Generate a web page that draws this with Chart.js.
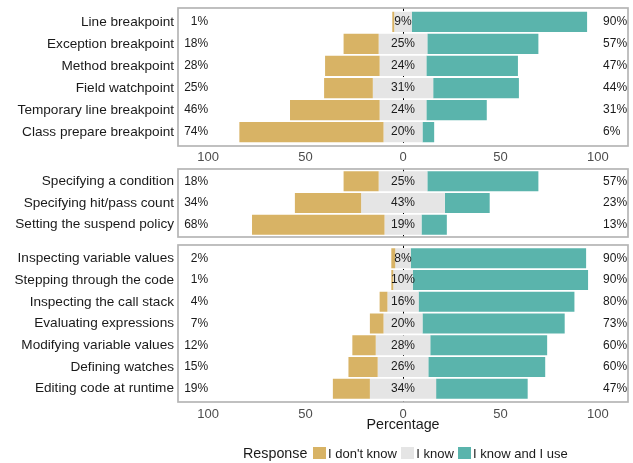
<!DOCTYPE html>
<html>
<head>
<meta charset="utf-8">
<script src="https://cdn.jsdelivr.net/npm/chart.js@4.4.1/dist/chart.umd.min.js"></script>
<style>
  html, body { margin: 0; padding: 0; background: #ffffff; }
  #wrap { position: relative; width: 633px; height: 463px; overflow: hidden; font-family: "Liberation Sans", Arial, Helvetica, sans-serif; }
  #wrap canvas { position: absolute; left: 0; }
  #legend { position: absolute; left: 243px; top: 444px; height: 18px; display: flex; align-items: center; white-space: nowrap; color: #1a1a1a; }
  #legend .title { font-size: 14.3px; margin-right: 5.5px; }
  #legend .key { width: 13.3px; height: 12.5px; margin-right: 1.8px; }
  #legend .lab { font-size: 13px; margin-right: 4.2px; }
</style>
</head>
<body>
<div id="wrap">
  <canvas id="c1" width="633" height="168" style="top:0px"></canvas>
  <canvas id="c2" width="633" height="85" style="top:160px"></canvas>
  <canvas id="c3" width="633" height="200" style="top:240px"></canvas>
  <div id="legend"></div>
</div>
<script>
// ---------------- data ----------------
const breakpointTypes = ["Line breakpoint", "Exception breakpoint", "Method breakpoint", "Field watchpoint", "Temporary line breakpoint", "Class prepare breakpoint"];
const breakpointDontKnow = [1, 18, 28, 25, 46, 74];
const breakpointKnow = [9, 25, 24, 31, 24, 20];
const breakpointKnowUse = [90, 57, 47, 44, 31, 6];

const breakpointSettings = ["Specifying a condition", "Specifying hit/pass count", "Setting the suspend policy"];
const settingDontKnow = [18, 34, 68];
const settingKnow = [25, 43, 19];
const settingKnowUse = [57, 23, 13];

const debugFeatures = ["Inspecting variable values", "Stepping through the code", "Inspecting the call stack", "Evaluating expressions", "Modifying variable values", "Defining watches", "Editing code at runtime"];
const featureDontKnow = [2, 1, 4, 7, 12, 15, 19];
const featureKnow = [8, 10, 16, 20, 28, 26, 34];
const featureKnowUse = [90, 90, 80, 73, 60, 60, 47];

const responseLevels = ["I don't know", "I know", "I know and I use"];
const xTickValues = [-100, -50, 0, 50, 100];
const axisTitle = "Percentage";
const legendTitle = "Response";

// ---------------- style ----------------
const COLOR_LOW = '#D8B365';
const COLOR_NEU = '#E5E5E5';
const COLOR_HIGH = '#5AB4AC';
const FONT = '"Liberation Sans", Arial, Helvetica, sans-serif';
const X_MIN = -115.5, X_MAX = 115.5;

function makeChart(id, labels, low, neu, high, cfg) {
  const panelPlugin = {
    id: 'panel' + id,
    beforeDatasetsDraw(chart) {
      const ctx = chart.ctx, a = chart.chartArea;
      const x = Math.round(chart.scales.x.getPixelForValue(0)) + 0.5;
      ctx.save();
      ctx.strokeStyle = '#000000';
      ctx.lineWidth = 1;
      ctx.setLineDash([3, 3]);
      ctx.beginPath();
      ctx.moveTo(x, a.top - cfg.pad);
      ctx.lineTo(x, a.bottom + cfg.pad);
      ctx.stroke();
      ctx.restore();
    },
    afterDatasetsDraw(chart) {
      const ctx = chart.ctx, xs = chart.scales.x, ys = chart.scales.y;
      ctx.save();
      ctx.font = '12px ' + FONT;
      ctx.fillStyle = '#1a1a1a';
      ctx.textBaseline = 'middle';
      labels.forEach((lab, i) => {
        const y = ys.getPixelForValue(i);
        ctx.textAlign = 'right';
        ctx.fillText(low[i] + '%', xs.getPixelForValue(-100), y);
        ctx.textAlign = 'center';
        ctx.fillText(neu[i] + '%', xs.getPixelForValue(0), y);
        ctx.textAlign = 'left';
        ctx.fillText(high[i] + '%', xs.getPixelForValue(102.7), y);
      });
      ctx.restore();
    },
    afterDraw(chart) {
      const ctx = chart.ctx, a = chart.chartArea;
      ctx.save();
      ctx.strokeStyle = '#b5b5b5';
      ctx.lineWidth = 1.7;
      ctx.strokeRect(a.left, a.top - cfg.pad, a.right - a.left, (a.bottom - a.top) + 2 * cfg.pad);
      ctx.restore();
    }
  };

  const common = { borderWidth: 0, barPercentage: 0.92, categoryPercentage: 1.0, grouped: false };
  return new Chart(document.getElementById(id), {
    type: 'bar',
    data: {
      labels: labels,
      datasets: [
        Object.assign({ label: responseLevels[0], data: low.map((v, i) => [-neu[i] / 2 - v, -neu[i] / 2]), backgroundColor: COLOR_LOW }, common),
        Object.assign({ label: responseLevels[1], data: neu.map(v => [-v / 2, v / 2]), backgroundColor: COLOR_NEU }, common),
        Object.assign({ label: responseLevels[2], data: high.map((v, i) => [neu[i] / 2, neu[i] / 2 + v]), backgroundColor: COLOR_HIGH }, common)
      ]
    },
    options: {
      indexAxis: 'y',
      responsive: false,
      animation: false,
      devicePixelRatio: 1,
      layout: { padding: { left: 0, right: 5, top: cfg.padTop, bottom: cfg.padBottom } },
      plugins: { legend: { display: false }, tooltip: { enabled: false } },
      scales: {
        x: {
          type: 'linear',
          min: X_MIN,
          max: X_MAX,
          display: cfg.showX,
          afterBuildTicks: s => { s.ticks = xTickValues.map(v => ({ value: v })); },
          afterFit: s => {
            if (cfg.xHeight !== undefined) s.height = cfg.xHeight;
            s.paddingLeft = 0; s.paddingRight = 0;
          },
          grid: { display: false, drawTicks: false },
          border: { display: false },
          ticks: {
            padding: cfg.tickPad || 6,
            color: '#4d4d4d',
            font: { family: FONT, size: 13 },
            callback: v => String(Math.abs(v)),
            maxRotation: 0,
            autoSkip: false
          },
          title: {
            display: !!cfg.showTitle,
            text: axisTitle,
            color: '#1a1a1a',
            font: { family: FONT, size: 14.3 },
            padding: { top: 0, bottom: 0 }
          }
        },
        y: {
          type: 'category',
          offset: true,
          afterFit: s => { s.width = 178; s.paddingTop = 0; s.paddingBottom = 0; },
          grid: { display: false, drawTicks: false },
          border: { display: false },
          ticks: { padding: 4, color: '#1a1a1a', font: { family: FONT, size: 13.6 }, autoSkip: false }
        }
      }
    },
    plugins: [panelPlugin]
  });
}

makeChart('c1', breakpointTypes, breakpointDontKnow, breakpointKnow, breakpointKnowUse,
  { pad: 2.8, padTop: 10.8, padBottom: 0, showX: true, xHeight: 24.8, tickPad: 6 });
makeChart('c2', breakpointSettings, settingDontKnow, settingKnow, settingKnowUse,
  { pad: 1.5, padTop: 10.5, padBottom: 9.5, showX: false });
makeChart('c3', debugFeatures, featureDontKnow, featureKnow, featureKnowUse,
  { pad: 2.5, padTop: 7.5, padBottom: 6.4, showX: true, xHeight: 34.1, showTitle: true, tickPad: 7 });

// ---------------- legend ----------------
const legend = document.getElementById('legend');
const t = document.createElement('span');
t.className = 'title'; t.textContent = legendTitle;
legend.appendChild(t);
[COLOR_LOW, COLOR_NEU, COLOR_HIGH].forEach((c, i) => {
  const k = document.createElement('span');
  k.className = 'key'; k.style.background = c;
  legend.appendChild(k);
  const l = document.createElement('span');
  l.className = 'lab'; l.textContent = responseLevels[i];
  legend.appendChild(l);
});
</script>
</body>
</html>
